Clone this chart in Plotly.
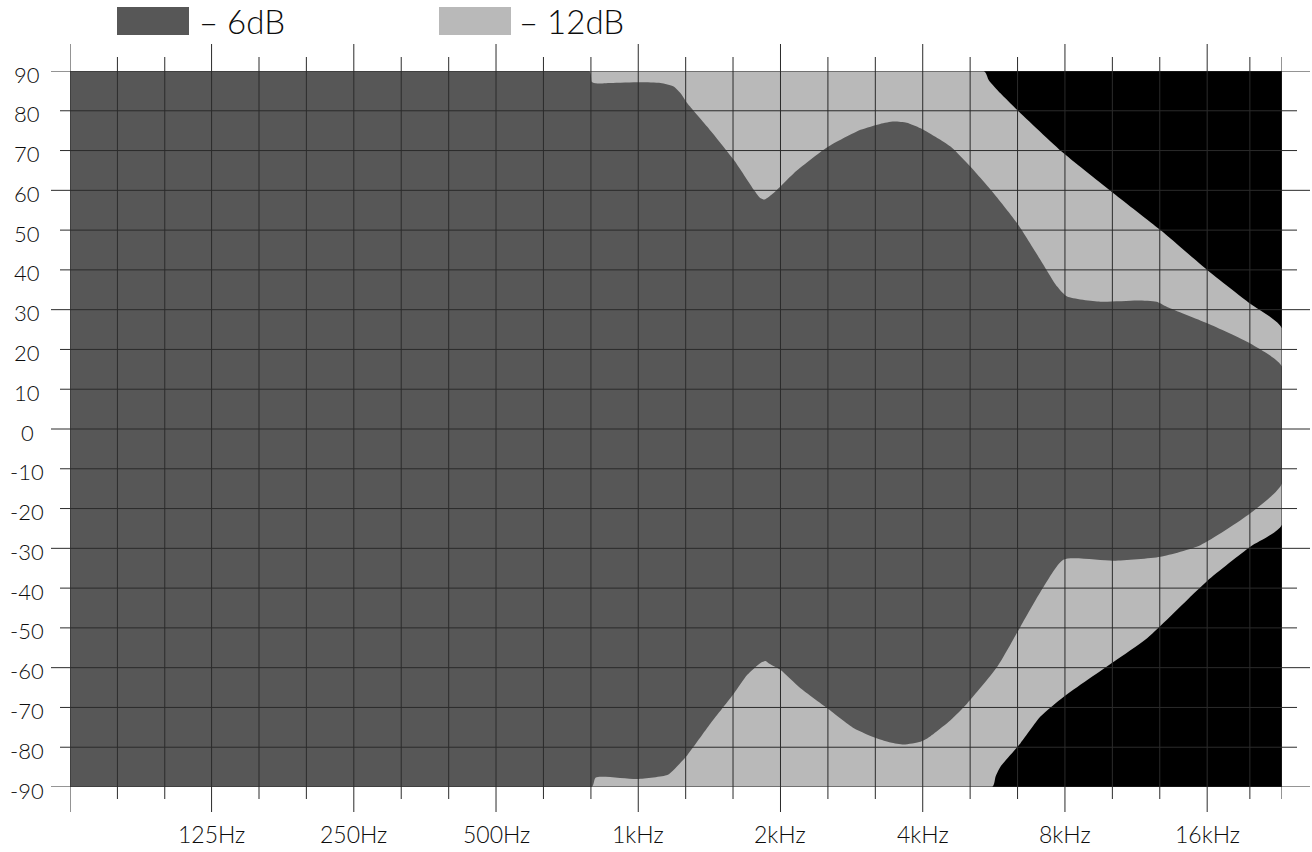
import math
import plotly.graph_objects as go

# ---------------- data ----------------
# -6 dB contour: upper and lower boundary (frequency Hz, angle deg)
f6_top = [62.7, 788, 797, 810, 874, 1012, 1115, 1188, 1229, 1270, 1400, 1594, 1757, 1815,
          1851, 1937, 2135, 2512, 2955, 3250, 3475, 3700, 3958, 4580, 5049, 5656, 6339,
          7100, 7702, 8085, 9510, 11400, 12500, 13160, 16000, 19740, 23040]
a6_top = [90, 90, 87.3, 86.9, 87.0, 87.2, 87.0, 86.1, 84.4, 81.9, 76.0, 67.6, 60.1, 58.0,
          57.7, 59.4, 64.3, 70.8, 75.2, 76.7, 77.3, 77.0, 75.6, 71.0, 65.9, 59.2, 51.7,
          42.5, 35.8, 33.3, 32.0, 32.3, 32.0, 30.7, 26.6, 21.5, 15.7]

f6_bot = [62.7, 797, 813, 996, 1152, 1188, 1270, 1423, 1594, 1701, 1815, 1860, 1900,
          2001, 2205, 2512, 2860, 3205, 3420, 3648, 3958, 4089, 4580, 4968, 5751, 6441,
          7215, 7954, 10150, 12740, 15480, 19740, 23040]
a6_bot = [-90, -90, -87.6, -88.0, -87.0, -85.7, -82.0, -74.0, -66.5, -61.8, -58.8, -58.3,
          -59.1, -60.6, -65.2, -70.2, -75.2, -77.8, -78.8, -79.3, -78.6, -77.8, -73.2,
          -69.0, -59.8, -49.7, -39.6, -32.8, -33.1, -32.1, -29.2, -21.2, -13.7]

# -12 dB contour: upper and lower boundary
f12_top = [62.7, 5386, 5520, 5843, 6339, 7954, 10150, 12740, 16000, 19740, 23040]
a12_top = [90, 90, 87.7, 84.4, 80.2, 69.3, 59.2, 50.0, 40.0, 31.5, 25.3]

f12_bot = [62.7, 5611, 5704, 5843, 6441, 7100, 7954, 10150, 11940, 16000, 19740, 23040]
a12_bot = [-90, -90, -87.4, -84.9, -79.0, -72.3, -67.3, -58.5, -52.6, -38.2, -29.6, -24.1]

# axis / grid
x_range_hz = [62.7, 23040]
grid_major_hz = [62.7, 125, 250, 500, 1000, 2000, 4000, 8000, 16000]
grid_minor_hz = [79, 99.5, 157.5, 198.4, 315, 397, 630, 794, 1260, 1587, 2520, 3175,
                 5040, 6350, 10080, 12700, 19700, 23040]
x_tick_vals = [125, 250, 500, 1000, 2000, 4000, 8000, 16000]
x_tick_text = ["125Hz", "250Hz", "500Hz", "1kHz", "2kHz", "4kHz", "8kHz", "16kHz"]
y_tick_vals = [90, 80, 70, 60, 50, 40, 30, 20, 10, 0, -10, -20, -30, -40, -50, -60, -70, -80, -90]
y_tick_text = ["90", "80", "70", "60", "50", "40", "30", "20", "10", "0", "-10", "-20", "-30",
               "-40", "-50", "-60", "-70", "-80", "-90"]
legend_names = ["– 6dB", "– 12dB"]

# ---------------- styling ----------------
W, H = 1312, 852
ML, MR, MT, MB = 70, 30, 71, 65
PW, PH = W - ML - MR, H - MT - MB
DARK = "#575757"
LIGHT = "#b9b9b9"
GRID = "#2b2b2b"
TXT = "#0d0d0d"
FONT = "Lato"


def px_x(px):
    return (px - ML) / PW


def px_y(py):
    return (H - MB - py) / PH


fig = go.Figure()

fig.add_trace(go.Scatter(
    x=f12_top + f12_bot[::-1], y=a12_top + a12_bot[::-1],
    fill="toself", fillcolor=LIGHT, line=dict(width=0, shape="spline", smoothing=0.6),
    mode="lines", hoverinfo="skip", showlegend=False, name=legend_names[1]))
fig.add_trace(go.Scatter(
    x=f6_top + f6_bot[::-1], y=a6_top + a6_bot[::-1],
    fill="toself", fillcolor=DARK, line=dict(width=0, shape="spline", smoothing=0.6),
    mode="lines", hoverinfo="skip", showlegend=False, name=legend_names[0]))

shapes = []
# vertical grid lines with outside ticks (long on octaves, short on thirds)
for f in grid_major_hz:
    shapes.append(dict(type="line", xref="x", yref="paper", x0=f, x1=f,
                       y0=px_y(812), y1=px_y(44), layer="above",
                       line=dict(color=GRID, width=1)))
for f in grid_minor_hz:
    shapes.append(dict(type="line", xref="x", yref="paper", x0=f, x1=f,
                       y0=px_y(799), y1=px_y(57), layer="above",
                       line=dict(color=GRID, width=1)))
# horizontal grid lines with outside ticks
for v in y_tick_vals:
    long_tick = (v % 30 == 0)
    shapes.append(dict(type="line", xref="paper", yref="y",
                       x0=px_x(51 if long_tick else 60), x1=px_x(1310 if long_tick else 1297),
                       y0=v, y1=v, layer="above",
                       line=dict(color=GRID, width=1)))

# legend swatches
shapes.append(dict(type="rect", xref="paper", yref="paper",
                   x0=px_x(117), x1=px_x(189), y0=px_y(35), y1=px_y(7),
                   fillcolor=DARK, line=dict(width=0)))
shapes.append(dict(type="rect", xref="paper", yref="paper",
                   x0=px_x(439), x1=px_x(511), y0=px_y(35), y1=px_y(7),
                   fillcolor=LIGHT, line=dict(width=0)))

annotations = []
annotations.append(dict(text=legend_names[0], xref="paper", yref="paper",
                        x=px_x(242), y=px_y(21), xanchor="center", yanchor="middle",
                        showarrow=False, font=dict(family=FONT, size=33, color=TXT, weight=300)))
annotations.append(dict(text=legend_names[1], xref="paper", yref="paper",
                        x=px_x(571), y=px_y(21), xanchor="center", yanchor="middle",
                        showarrow=False, font=dict(family=FONT, size=33, color=TXT, weight=300)))
for v, t in zip(x_tick_vals, x_tick_text):
    annotations.append(dict(text=t, xref="x", yref="paper", x=math.log10(v), y=px_y(834),
                            xanchor="center", yanchor="middle", showarrow=False,
                            font=dict(family=FONT, size=23, color=TXT, weight=300)))
for v, t in zip(y_tick_vals, y_tick_text):
    annotations.append(dict(text=t, xref="paper", yref="y", x=px_x(27), y=v, yshift=-3,
                            xanchor="center", yanchor="middle", showarrow=False,
                            font=dict(family=FONT, size=22, color=TXT, weight=300)))

fig.update_layout(
    width=W, height=H,
    margin=dict(l=ML, r=MR, t=MT, b=MB, pad=0),
    paper_bgcolor="white", plot_bgcolor="black",
    showlegend=False,
    shapes=shapes, annotations=annotations,
    xaxis=dict(type="log", range=[math.log10(x_range_hz[0]), math.log10(x_range_hz[1])],
               showgrid=False, zeroline=False, showline=False, showticklabels=False,
               ticks="", fixedrange=True),
    yaxis=dict(range=[-90, 90], showgrid=False, zeroline=False, showline=False,
               showticklabels=False, ticks="", fixedrange=True),
)

fig.write_html("out.html", config={"displayModeBar": False},
               post_script="document.body.style.margin='0';document.body.style.padding='0';")
